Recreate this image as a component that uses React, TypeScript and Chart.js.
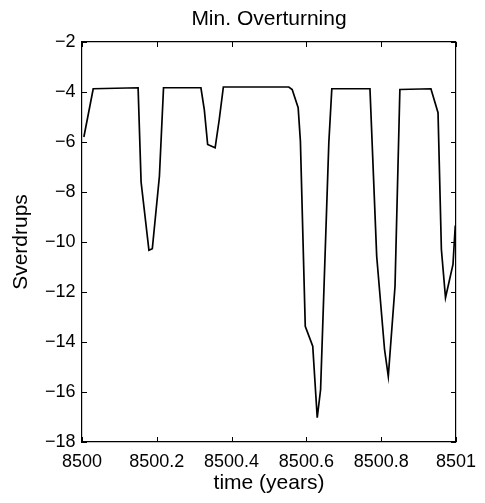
import React, { useEffect, useRef } from "react";
import { Chart, registerables } from "chart.js";

Chart.register(...registerables);

const times: number[] = [
  8500.005, 8500.03, 8500.15, 8500.158, 8500.179, 8500.188, 8500.207, 8500.218,
  8500.318, 8500.327, 8500.336, 8500.356, 8500.367, 8500.378, 8500.553, 8500.562,
  8500.578, 8500.584, 8500.597, 8500.617, 8500.629, 8500.638, 8500.66, 8500.668,
  8500.77, 8500.788, 8500.809, 8500.819, 8500.837, 8500.85, 8500.933, 8500.952,
  8500.961, 8500.972, 8500.992, 8500.998, 8501.0,
];
const overturning: number[] = [
  -5.8, -3.87, -3.83, -7.6, -10.33, -10.27, -7.37, -3.83,
  -3.83, -4.7, -6.1, -6.23, -5.1, -3.8, -3.8, -3.9,
  -4.63, -5.97, -13.37, -14.17, -17.03, -15.9, -6.03, -3.87,
  -3.87, -10.57, -14.3, -15.37, -11.77, -3.9, -3.87, -4.83,
  -10.3, -12.23, -10.9, -9.37, -8.3,
];

const titleText = "Min. Overturning";
const xTitle = "time (years)";
const yTitle = "Sverdrups";
const xMin = 8500;
const xMax = 8501;
const xStep = 0.2;
const yMin = -18;
const yMax = -2;
const yStep = 2;

const FONT = "'Liberation Sans', Arial, Helvetica, sans-serif";

const inwardTicks = {
  id: "inwardTicks",
  afterDraw(chart: any) {
    const { ctx, chartArea } = chart;
    const xs = chart.scales.x;
    const ys = chart.scales.y;
    const len = 5;
    ctx.save();
    ctx.strokeStyle = "#000";
    ctx.lineWidth = 1;
    ctx.beginPath();
    xs.ticks.forEach((t: any) => {
      const px = Math.round(xs.getPixelForValue(t.value)) + 0.5;
      ctx.moveTo(px, chartArea.bottom);
      ctx.lineTo(px, chartArea.bottom - len);
      ctx.moveTo(px, chartArea.top);
      ctx.lineTo(px, chartArea.top + len);
    });
    ys.ticks.forEach((t: any) => {
      const py = Math.round(ys.getPixelForValue(t.value)) + 0.5;
      ctx.moveTo(chartArea.left, py);
      ctx.lineTo(chartArea.left + len, py);
      ctx.moveTo(chartArea.right, py);
      ctx.lineTo(chartArea.right - len, py);
    });
    ctx.stroke();
    ctx.restore();
  },
};

export default function App() {
  const ref = useRef<HTMLCanvasElement | null>(null);
  useEffect(() => {
    if (!ref.current) return;
    const data = times.map((t, i) => ({ x: t, y: overturning[i] }));
    const tickFont = { family: FONT, size: 18 };
    const labelFont = { family: FONT, size: 21 };
    const gridCommon = {
      drawOnChartArea: false,
      drawTicks: false,
      color: "#000",
      lineWidth: 1,
    };
    const border = { display: true, color: "#000", width: 1.2 };
    const chart = new Chart(ref.current, {
      type: "line",
      data: {
        datasets: [
          {
            data,
            borderColor: "#000",
            borderWidth: 1.7,
            pointRadius: 0,
            tension: 0,
            fill: false,
          },
        ],
      },
      options: {
        animation: false,
        responsive: true,
        maintainAspectRatio: false,
        layout: { padding: 0 },
        plugins: { legend: { display: false }, tooltip: { enabled: false } },
        scales: {
          x: {
            type: "linear",
            position: "bottom",
            min: xMin,
            max: xMax,
            afterFit: (s: any) => { s.height = 61; },
            ticks: {
              stepSize: xStep,
              color: "#000",
              font: tickFont,
              padding: 9,
              maxRotation: 0,
              autoSkip: false,
              callback: (v: any) => String(Number(Number(v).toFixed(1))),
            },
            grid: gridCommon,
            border,
            title: {
              display: true,
              text: xTitle,
              color: "#000",
              font: labelFont,
              padding: { top: 0, bottom: 7 },
            },
          },
          x2: {
            type: "linear",
            position: "top",
            min: xMin,
            max: xMax,
            afterFit: (s: any) => { s.height = 42; },
            ticks: { stepSize: xStep, display: false },
            grid: gridCommon,
            border,
            title: {
              display: true,
              text: titleText,
              color: "#000",
              font: labelFont,
              padding: { top: 7, bottom: 0 },
            },
          },
          y: {
            type: "linear",
            position: "left",
            min: yMin,
            max: yMax,
            afterFit: (s: any) => { s.width = 82; },
            ticks: {
              stepSize: yStep,
              color: "#000",
              font: tickFont,
              padding: 6.5,
              callback: (v: any) => String(v).replace("-", "\u2212"),
            },
            grid: gridCommon,
            border,
            title: {
              display: true,
              text: yTitle,
              color: "#000",
              font: labelFont,
              padding: { top: 9, bottom: 0 },
            },
          },
          y2: {
            type: "linear",
            position: "right",
            min: yMin,
            max: yMax,
            afterFit: (s: any) => { s.width = 26; },
            ticks: { stepSize: yStep, display: false },
            grid: gridCommon,
            border,
          },
        },
      },
      plugins: [inwardTicks],
    });
    return () => chart.destroy();
  }, []);
  return (
    <div style={{ position: "absolute", left: 0, top: 0, width: 485, height: 503, background: "#fff" }}>
      <canvas ref={ref} />
    </div>
  );
}
